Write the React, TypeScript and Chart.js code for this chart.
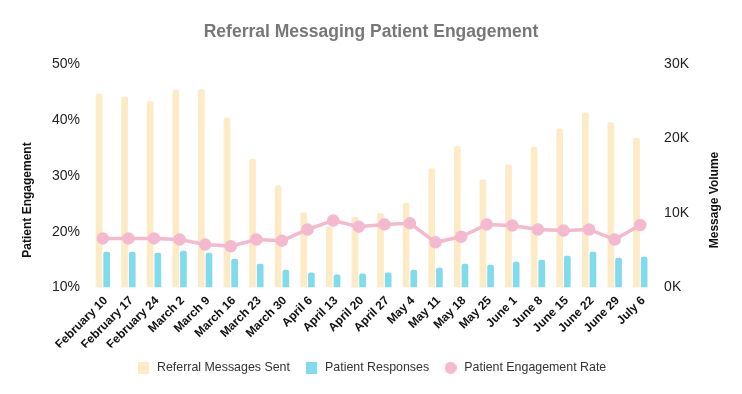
import React, { useEffect, useRef } from "react";
import { Chart, registerables } from "chart.js";

Chart.register(...registerables);

const categories = [
  "February 10", "February 17", "February 24", "March 2", "March 9", "March 16",
  "March 23", "March 30", "April 6", "April 13", "April 20", "April 27",
  "May 4", "May 11", "May 18", "May 25", "June 1", "June 8",
  "June 15", "June 22", "June 29", "July 6",
];

const messagesSent = [
  26000, 25600, 25000, 26500, 26600, 22800, 17300, 13700, 10100, 8200, 9500, 10000,
  11400, 16000, 19000, 14500, 16500, 18900, 21300, 23500, 22200, 20100,
];

const patientResponses = [
  4800, 4800, 4670, 4930, 4670, 3870, 3200, 2400, 2040, 1770, 1900, 2040,
  2400, 2670, 3200, 3070, 3470, 3730, 4270, 4800, 4000, 4130,
];

const engagementRate = [
  18.8, 18.8, 18.8, 18.6, 17.7, 17.4, 18.6, 18.4, 20.4, 22.0, 20.9, 21.3,
  21.5, 18.1, 19.1, 21.3, 21.1, 20.4, 20.2, 20.4, 18.6, 21.2,
];

const leftTicks = [10, 20, 30, 40, 50];
const rightTicks = [0, 10000, 20000, 30000];

const FONT = "Liberation Sans, Arial, sans-serif";
const ORANGE = "#FDEBC6";
const BLUE = "#80DBEC";
const PINK = "#F4B8CF";

function circleImage(color: string, d: number) {
  const c = document.createElement("canvas");
  c.width = d;
  c.height = d;
  const ctx = c.getContext("2d")!;
  ctx.fillStyle = color;
  ctx.beginPath();
  ctx.arc(d / 2, d / 2, d / 2, 0, Math.PI * 2);
  ctx.fill();
  return c;
}

function rectImage(color: string, w: number, h: number) {
  const c = document.createElement("canvas");
  c.width = w;
  c.height = h;
  const ctx = c.getContext("2d")!;
  ctx.fillStyle = color;
  ctx.fillRect(0, 0, w, h);
  return c;
}

const axisTitles = {
  id: "axisTitles",
  afterDraw(chart: any) {
    const ctx = chart.ctx;
    ctx.save();
    ctx.fillStyle = "#111111";
    ctx.font = "bold 12px " + FONT;
    ctx.textAlign = "center";
    ctx.textBaseline = "middle";
    const cy = 200;
    [
      { x: 28, t: "Patient Engagement" },
      { x: 715, t: "Message Volume" },
    ].forEach((a) => {
      ctx.save();
      ctx.translate(a.x, cy);
      ctx.rotate(-Math.PI / 2);
      ctx.fillText(a.t, 0, 0);
      ctx.restore();
    });
    ctx.restore();
  },
};

export default function App() {
  const ref = useRef<HTMLCanvasElement | null>(null);
  useEffect(() => {
    if (!ref.current) return;
    const legendImgs = [rectImage(ORANGE, 11, 12), rectImage(BLUE, 11, 12), circleImage(PINK, 12)];
    const chart = new Chart(ref.current, {
      type: "bar",
      data: {
        labels: categories,
        datasets: [
          {
            type: "bar",
            label: "Referral Messages Sent",
            data: messagesSent,
            backgroundColor: ORANGE,
            yAxisID: "y1",
            order: 1,
            categoryPercentage: 0.6,
            barPercentage: 0.87,
            borderRadius: 2,
          },
          {
            type: "bar",
            label: "Patient Responses",
            data: patientResponses,
            backgroundColor: BLUE,
            yAxisID: "y1",
            order: 1,
            categoryPercentage: 0.6,
            barPercentage: 0.87,
            borderRadius: 2,
          },
          {
            type: "line",
            label: "Patient Engagement Rate",
            data: engagementRate,
            borderColor: PINK,
            backgroundColor: PINK,
            pointBackgroundColor: PINK,
            pointBorderColor: PINK,
            borderWidth: 3.5,
            pointRadius: 4.5,
            yAxisID: "y",
            order: 0,
            tension: 0,
          },
        ],
      },
      plugins: [axisTitles],
      options: {
        animation: false,
        responsive: false,
        maintainAspectRatio: false,
        layout: { padding: { left: 42, right: 42, top: 6, bottom: 10 } },
        plugins: {
          title: {
            display: true,
            text: "Referral Messaging Patient Engagement",
            color: "#777777",
            font: { family: FONT, size: 17.5, weight: "bold" },
            padding: { top: 16, bottom: 21 },
          },
          legend: {
            position: "bottom",
            labels: {
              usePointStyle: true,
              boxHeight: 12,
              boxWidth: 15,
              pointStyleWidth: 15,
              padding: 14,
              color: "#333333",
              font: { family: FONT, size: 12.4 },
              sort: (a: any, b: any) => a.datasetIndex - b.datasetIndex,
              generateLabels: (c: any) => {
                const base = Chart.defaults.plugins.legend.labels.generateLabels(c);
                return base.map((it: any) => ({ ...it, pointStyle: legendImgs[it.datasetIndex] }));
              },
            },
          },
          tooltip: { enabled: false },
        },
        scales: {
          x: {
            grid: { display: false, drawTicks: false },
            border: { display: false },
            afterFit: (axis: any) => {
              axis.height = 60;
            },
            ticks: {
              minRotation: 45,
              maxRotation: 45,
              padding: 6,
              labelOffset: 3,
              color: "#111111",
              autoSkip: false,
              font: { family: FONT, size: 12, weight: "bold" },
            },
          },
          y: {
            position: "left",
            min: leftTicks[0],
            max: leftTicks[leftTicks.length - 1],
            grid: { display: false, drawTicks: false },
            border: { display: false },
            afterBuildTicks: (axis: any) => {
              axis.ticks = leftTicks.map((v) => ({ value: v }));
            },
            ticks: {
              color: "#222222",
              padding: 10,
              font: { family: FONT, size: 14 },
              callback: (v: any) => v + "%",
            },
          },
          y1: {
            position: "right",
            min: rightTicks[0],
            max: rightTicks[rightTicks.length - 1],
            grid: { display: false, drawTicks: false },
            border: { display: false },
            afterBuildTicks: (axis: any) => {
              axis.ticks = rightTicks.map((v) => ({ value: v }));
            },
            ticks: {
              color: "#222222",
              padding: 11,
              font: { family: FONT, size: 14 },
              callback: (v: any) => v / 1000 + "K",
            },
          },
        },
      },
    });
    return () => chart.destroy();
  }, []);
  return (
    <div style={{ position: "fixed", left: 0, top: 0, width: 742, height: 394, background: "#fff" }}>
      <canvas ref={ref} width={742} height={394} style={{ width: 742, height: 394 }} />
    </div>
  );
}
